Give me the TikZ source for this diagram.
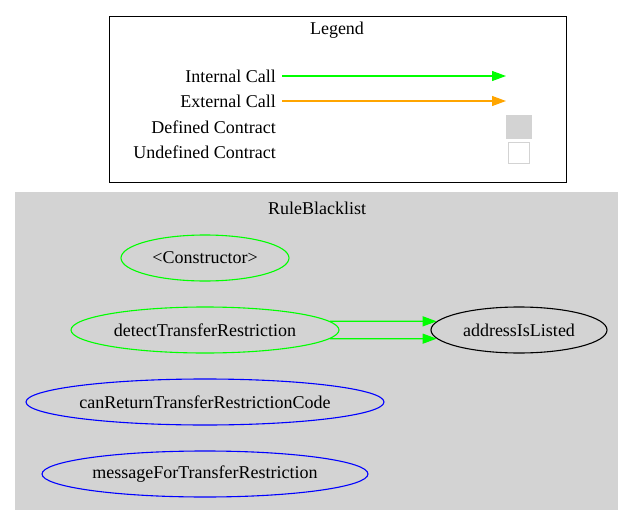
\documentclass[tikz,border=0pt]{standalone}
\usepackage{fontspec}
\setmainfont{Liberation Serif}
\usepackage{tikz}
\usetikzlibrary{arrows.meta, positioning, shapes.geometric}

\definecolor{callgreen}{HTML}{00FF00}
\definecolor{callorange}{HTML}{FFA500}
\definecolor{clustergray}{HTML}{D3D3D3}

\begin{document}
\begin{tikzpicture}[x=1pt,y=-1pt,node distance=72pt,on grid,>={Triangle[length=14pt,width=10pt]},
		every node/.style={font=\fontsize{18}{21}\selectfont},
		fn/.style={ellipse, draw, line width=1.1pt, minimum height=46pt, inner sep=0pt},
		internal/.style={fn, draw=callgreen},
		public/.style={fn, draw=blue},
		lbl/.style={anchor=east, inner sep=2pt}]
		
		\useasboundingbox (0,0) rectangle (633,525);
		
		% legend
		\draw [line width=0.9pt] (109,16) rectangle (566,182);
		\node (legend) at (337,30) {Legend};
		\node (intcall) [lbl] at (278,76) {Internal Call};
		\node (extcall) [lbl] at (278,101) {External Call};
		\node (defc) [lbl] at (278,127) {Defined Contract};
		\node (undefc) [lbl] at (278,152) {Undefined Contract};
		\coordinate (intend) at (506,76);
		\coordinate (extend) at (506,101);
		\node (defbox) [fill=clustergray, minimum width=26pt, minimum height=24pt, inner sep=0pt] at (519,127) {};
		\node (undefbox) [draw=clustergray, line width=1pt, fill=white, minimum width=21pt, minimum height=21pt, inner sep=0pt] at (519,153) {};
		
		% cluster
		\fill [clustergray] (15,192) rectangle (618,510);
		\node (cluster) at (317,208) {RuleBlacklist};
		
		\node (ctor) 
			[internal, minimum width=168pt] at (205,258) {\textless Constructor\textgreater};
			\node (dtr) 
				[internal, minimum width=268pt, below of = ctor] {detectTransferRestriction};
			\node (crtrc) 
				[public, minimum width=358pt, below of = dtr] {canReturnTransferRestrictionCode};
			\node (mftr) 
				[public, minimum width=326pt, below of = crtrc] {messageForTransferRestriction};
		
		\node (ail) 
			[fn, draw=black, minimum width=176pt] at (519,330) {addressIsListed};
		
		\path [->, line width=1.2pt]
		(intcall.east) ++(4,0) edge [draw=callgreen, color=callgreen] (intend)
		(extcall.east) ++(4,0) edge [draw=callorange, color=callorange] (extend)
		(dtr.4) edge [draw=callgreen, color=callgreen] (ail.174)
		(dtr.-4) edge [draw=callgreen, color=callgreen] (ail.186)
		;
	\end{tikzpicture}
\end{document}
